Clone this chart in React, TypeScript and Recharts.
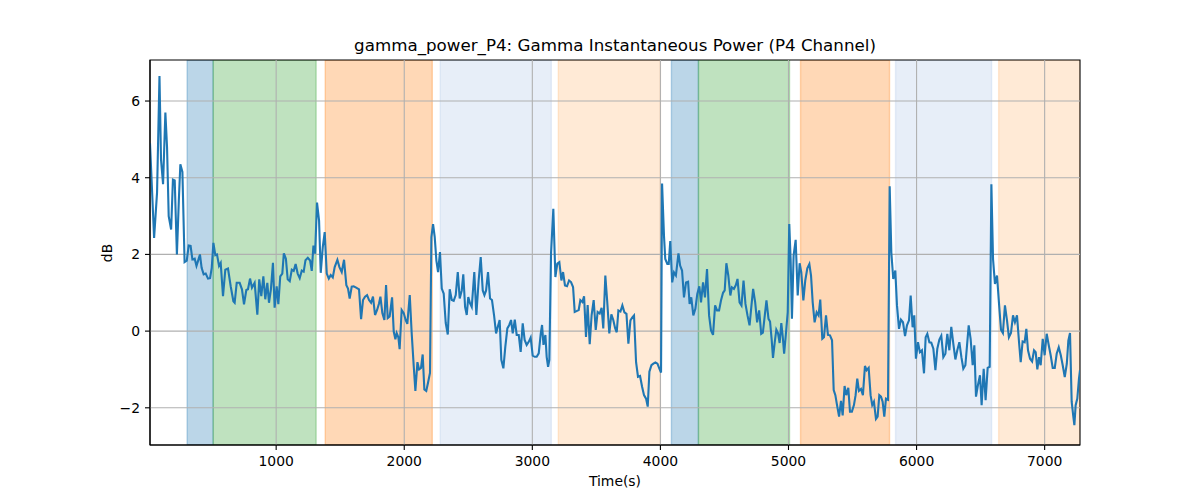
import React from "react";
import {
  LineChart,
  Line,
  XAxis,
  YAxis,
  ReferenceArea,
  ReferenceLine,
} from "recharts";

const timeSec = [
  15, 47, 70, 89, 101, 117, 135, 148, 161, 180, 194, 208, 225, 240, 252, 268, 285, 302, 317, 332,
  346, 364, 378, 392, 405, 418, 434, 450, 468, 484, 497, 510, 525, 538, 554, 567, 585, 603, 624, 645,
  666, 676, 692, 715, 733, 749, 767, 780, 796, 811, 832, 853, 868, 884, 900, 915, 931, 944, 959, 975,
  988, 1004, 1017, 1032, 1048, 1060, 1076, 1090, 1106, 1122, 1137, 1152, 1168, 1184, 1200, 1215, 1229, 1247, 1265, 1278,
  1291, 1304, 1319, 1335, 1348, 1364, 1379, 1395, 1411, 1426, 1442, 1457, 1478, 1494, 1512, 1530, 1548, 1561, 1574, 1590,
  1605, 1621, 1647, 1663, 1678, 1694, 1710, 1725, 1741, 1756, 1772, 1788, 1803, 1814, 1829, 1845, 1858, 1871, 1886, 1905,
  1918, 1931, 1941, 1954, 1964, 1980, 1996, 2011, 2024, 2043, 2058, 2074, 2087, 2103, 2116, 2131, 2144, 2157, 2172, 2186,
  2201, 2212, 2225, 2238, 2251, 2264, 2279, 2293, 2308, 2324, 2340, 2355, 2371, 2386, 2402, 2418, 2433, 2449, 2461, 2475,
  2488, 2500, 2514, 2527, 2547, 2563, 2581, 2597, 2613, 2626, 2639, 2654, 2670, 2685, 2701, 2717, 2730, 2745, 2758, 2774,
  2789, 2805, 2820, 2834, 2847, 2863, 2878, 2894, 2909, 2925, 2940, 2956, 2972, 2987, 3003, 3019, 3034, 3050, 3066, 3076,
  3087, 3102, 3112, 3123, 3133, 3146, 3164, 3180, 3195, 3211, 3227, 3240, 3255, 3271, 3287, 3302, 3318, 3331, 3345, 3362,
  3375, 3391, 3404, 3419, 3432, 3448, 3463, 3479, 3495, 3510, 3526, 3541, 3554, 3570, 3585, 3601, 3617, 3632, 3646, 3659,
  3672, 3688, 3703, 3719, 3735, 3750, 3766, 3781, 3794, 3810, 3825, 3841, 3857, 3872, 3888, 3901, 3914, 3930, 3945, 3961,
  3977, 3992, 4005, 4013, 4028, 4038, 4054, 4065, 4077, 4092, 4106, 4121, 4141, 4154, 4169, 4184, 4200, 4216, 4228, 4241,
  4257, 4273, 4288, 4304, 4317, 4333, 4348, 4364, 4380, 4395, 4411, 4427, 4442, 4458, 4473, 4489, 4502, 4515, 4530, 4546,
  4558, 4574, 4589, 4602, 4618, 4633, 4649, 4664, 4680, 4696, 4711, 4724, 4740, 4755, 4771, 4787, 4800, 4815, 4828, 4844,
  4856, 4869, 4879, 4892, 4905, 4918, 4931, 4944, 4955, 4966, 4978, 4994, 5006, 5017, 5027, 5040, 5056, 5072, 5087, 5100,
  5116, 5131, 5147, 5163, 5176, 5189, 5204, 5220, 5235, 5248, 5264, 5277, 5293, 5308, 5324, 5340, 5353, 5366, 5379, 5395,
  5410, 5423, 5438, 5451, 5467, 5480, 5495, 5511, 5524, 5537, 5550, 5566, 5581, 5597, 5610, 5626, 5641, 5654, 5667, 5683,
  5696, 5709, 5722, 5735, 5748, 5761, 5777, 5790, 5803, 5818, 5834, 5847, 5863, 5878, 5894, 5910, 5925, 5941, 5954, 5969,
  5982, 5995, 6011, 6026, 6042, 6058, 6071, 6084, 6100, 6115, 6131, 6147, 6162, 6178, 6193, 6209, 6225, 6240, 6256, 6271,
  6287, 6303, 6318, 6334, 6350, 6365, 6381, 6394, 6407, 6422, 6438, 6451, 6464, 6479, 6495, 6508, 6524, 6539, 6555, 6571,
  6584, 6597, 6612, 6628, 6643, 6659, 6674, 6690, 6706, 6721, 6737, 6753, 6768, 6784, 6800, 6813, 6828, 6844, 6857, 6870,
  6886, 6902, 6917, 6930, 6943, 6956, 6969, 6985, 7000, 7016, 7032, 7047, 7063, 7079, 7094, 7110, 7126, 7141, 7157, 7173,
  7185, 7198, 7211, 7224, 7232, 7242, 7255, 7268, 7276,
];

const powerDb = [
  4.9, 2.43, 3.61, 6.65, 4.47, 3.83, 5.7, 4.8, 3.0, 2.65, 3.95, 3.93, 2.0, 3.4, 4.35, 4.15, 1.8, 1.84, 2.23, 2.22,
  1.87, 1.89, 1.7, 1.85, 2.0, 1.65, 1.48, 1.5, 1.37, 1.38, 1.65, 2.3, 1.98, 2.0, 1.7, 1.78, 0.91, 1.6, 1.63, 1.17,
  0.78, 0.74, 1.26, 1.26, 1.09, 0.7, 1.07, 1.09, 1.37, 1.13, 1.26, 0.43, 1.35, 0.91, 1.43, 0.83, 1.26, 0.74, 1.09, 1.78,
  0.61, 1.17, 0.7, 1.43, 1.5, 2.03, 1.89, 1.35, 1.3, 1.6, 1.57, 1.75, 1.5, 1.38, 1.58, 1.55, 1.85, 1.91, 1.84, 1.57,
  2.23, 2.02, 3.35, 2.88, 1.52, 2.19, 2.58, 1.5, 1.37, 1.46, 1.4, 1.67, 1.86, 1.67, 1.54, 1.86, 1.2, 1.11, 0.85, 1.16,
  1.17, 1.14, 1.09, 0.31, 0.81, 0.9, 0.94, 0.81, 0.74, 0.9, 0.42, 0.55, 0.72, 0.9, 0.47, 0.29, 1.2, 0.34, 0.38, 0.88,
  -0.01, -0.21, -0.05, -0.16, -0.47, 0.55, 0.47, 0.29, 0.19, 0.94, -0.05, -0.91, -1.56, -0.81, -1.0, -0.96, -0.61, -1.52, -1.56, -1.34,
  -1.09, 2.45, 2.79, 2.45, 1.84, 1.54, 2.06, 1.11, 0.98, 0.21, -0.09, 1.09, 0.81, 0.79, 0.94, 1.54, 0.85, 1.06, 1.48, 0.63,
  0.42, 0.89, 0.72, 0.63, 1.54, 0.42, 1.32, 1.93, 1.06, 0.94, 1.06, 1.54, 0.85, 0.81, 0.42, -0.06, 0.11, 0.29, -0.75, -0.97,
  -0.41, 0.07, 0.16, 0.29, -0.06, 0.3, -0.1, -0.1, -0.54, 0.2, -0.23, -0.36, -0.28, -0.17, -0.64, -0.67, -0.67, -0.58, -0.06, 0.16,
  -0.36, -0.1, -0.67, -0.93, -0.75, 2.02, 3.19, 1.41, 1.76, 1.8, 1.32, 1.54, 1.19, 1.17, 1.32, 1.28, 1.15, 0.5, 0.52, 0.55,
  0.81, 0.76, 0.91, -0.15, 0.68, -0.34, 0.42, 0.81, 0.03, 0.5, 0.46, 0.61, 0.07, 1.45, 0.76, -0.06, 0.44, 0.29, 0.08, -0.03,
  0.54, 0.51, 0.67, 0.49, 0.45, -0.33, 0.28, 0.36, 0.41, -0.81, -1.19, -1.17, -1.45, -1.67, -1.76, -1.97, -1.06, -0.89, -0.85, -0.82,
  -0.85, -0.98, -1.08, 3.85, 2.48, 1.88, 1.75, 1.75, 2.35, 1.27, 1.53, 1.45, 2.03, 1.71, 1.58, 0.88, 1.27, 1.29, 0.71, 0.88,
  0.41, 0.58, 0.97, 1.17, 0.75, 1.27, 0.88, 1.62, 0.41, 0.02, -0.1, 0.67, 0.54, 0.54, 0.8, 1.0, 1.06, 1.77, 1.45, 0.93,
  1.14, 1.1, 1.2, 1.36, 0.75, 0.67, 1.32, 0.71, 0.41, 0.15, 0.67, 1.1, 0.75, 0.23, 0.54, -0.07, -0.04, 0.41, 0.8, 0.32,
  0.25, -0.23, -0.7, -0.31, 0.04, -0.05, -0.31, 0.21, -0.14, -0.59, -0.14, 0.49, 2.79, 1.84, 0.32, 1.97, 2.38, 0.93, 1.77, 1.53,
  0.8, 1.32, 1.64, 1.75, 1.45, 0.75, 0.23, 0.49, 0.41, 0.82, -0.2, -0.16, 0.41, -0.1, -0.11, -0.24, -1.54, -1.67, -1.93, -2.23,
  -1.82, -2.2, -1.43, -1.67, -1.48, -2.1, -2.1, -1.93, -1.67, -1.24, -1.56, -1.51, -1.67, -0.91, -1.02, -0.96, -1.67, -1.93, -1.84, -2.29,
  -2.23, -1.67, -1.71, -1.84, -2.23, -1.76, -1.79, 3.78, 2.05, 1.36, 1.58, 0.67, 0.06, 0.3, 0.23, -0.13, 0.15, 0.28, 0.93, 0.1,
  0.41, -0.72, -0.29, -0.55, -0.5, -1.1, -0.16, -0.07, -0.29, -0.3, -0.46, -1.02, -0.46, -0.22, -0.12, -0.68, -0.59, -0.07, -0.5, 0.11,
  -0.33, -0.74, -0.5, -0.29, -0.68, -0.98, -0.89, -0.37, 0.15, -0.2, -0.89, -0.37, -1.71, -1.41, -1.15, -1.93, -0.98, -1.8, -0.96, -0.93,
  3.83, 1.88, 1.23, 1.45, 0.75, 0.04, -0.05, 0.67, 0.28, -0.16, -0.05, 0.41, 0.23, 0.41, -0.29, -0.81, -0.27, -0.29, 0.06, -0.5,
  -0.72, -0.79, -0.5, -0.55, -1.0, -0.68, -0.89, -0.2, -0.63, -0.07, -0.37, -0.63, -0.96, -0.96, -0.59, -0.42, -0.63, -0.89, -1.2, -0.85,
  -0.25, -0.05, -1.84, -2.23, -2.45, -1.93, -1.76, -1.24, -1.02,
];

const spanStart = [305, 508, 1383, 2281, 3203, 4086, 4297, 5094, 5836, 6641];
const spanEnd = [508, 1312, 2219, 3148, 4000, 4297, 5008, 5789, 6586, 7276];
const spanKind = ["a", "b", "c", "d", "e", "a", "b", "c", "d", "e"];

const xTicks = [1000, 2000, 3000, 4000, 5000, 6000, 7000];
const yTicks = [-2, 0, 2, 4, 6];

const X_DOMAIN: [number, number] = [15, 7276];
const Y_DOMAIN: [number, number] = [-2.97, 7.07];

const kindColor: Record<string, string> = {
  a: "#1f77b4",
  b: "#2ca02c",
  c: "#ff7f0e",
  d: "#aec7e8",
  e: "#ffbb78",
};

const FONT = "'DejaVu Sans', sans-serif";

const data = timeSec.map((t, i) => ({ t, v: powerDb[i] }));

const fmtY = (v: number) => (v < 0 ? "\u2212" + Math.abs(v) : String(v));

export default function App() {
  return (
    <div style={{ position: "absolute", left: 0, top: 0, width: 1200, height: 500, background: "#fff" }}>
      <LineChart
        width={1200}
        height={500}
        data={data}
        margin={{ top: 60, right: 120, bottom: 25, left: 90 }}
        style={{ fontFamily: FONT }}
      >
        <XAxis
          dataKey="t"
          type="number"
          domain={X_DOMAIN}
          allowDataOverflow
          ticks={xTicks}
          height={30}
          tickSize={5}
          tickMargin={6}
          stroke="#000"
          tickLine={{ stroke: "#000", strokeWidth: 1.1 }}
          axisLine={{ stroke: "#000", strokeWidth: 1.1 }}
          tick={{ fill: "#000", fontSize: 13.9, fontFamily: FONT }}
          interval={0}
        />
        <YAxis
          type="number"
          domain={Y_DOMAIN}
          allowDataOverflow
          ticks={yTicks}
          width={60}
          tickSize={5}
          tickMargin={5}
          tickFormatter={fmtY}
          stroke="#000"
          tickLine={{ stroke: "#000", strokeWidth: 1.1 }}
          axisLine={{ stroke: "#000", strokeWidth: 1.1 }}
          tick={{ fill: "#000", fontSize: 13.9, fontFamily: FONT }}
          interval={0}
        />
        {spanStart.map((s, i) => (
          <ReferenceArea
            key={"span" + i}
            x1={s}
            x2={spanEnd[i]}
            y1={Y_DOMAIN[0]}
            y2={Y_DOMAIN[1]}
            fill={kindColor[spanKind[i]]}
            fillOpacity={0.3}
            stroke={kindColor[spanKind[i]]}
            strokeOpacity={0.3}
            strokeWidth={1.4}
            ifOverflow="hidden"
          />
        ))}
        {xTicks.map((x) => (
          <ReferenceLine key={"gx" + x} x={x} stroke="#b0b0b0" strokeWidth={1.1} />
        ))}
        {yTicks.map((y) => (
          <ReferenceLine key={"gy" + y} y={y} stroke="#b0b0b0" strokeWidth={1.1} />
        ))}
        <Line
          type="linear"
          dataKey="v"
          stroke="#1f77b4"
          strokeWidth={2.1}
          dot={false}
          activeDot={false}
          isAnimationActive={false}
        />
        <ReferenceArea
          x1={X_DOMAIN[0]}
          x2={X_DOMAIN[1]}
          y1={Y_DOMAIN[0]}
          y2={Y_DOMAIN[1]}
          fill="none"
          stroke="#000"
          strokeWidth={1.1}
        />
        <text x={615} y={51} textAnchor="middle" fontSize={16.7} fontFamily={FONT} fill="#000">
          gamma_power_P4: Gamma Instantaneous Power (P4 Channel)
        </text>
        <text x={615} y={486} textAnchor="middle" fontSize={13.9} fontFamily={FONT} fill="#000">
          Time(s)
        </text>
        <text
          x={112}
          y={253}
          textAnchor="middle"
          fontSize={13.9}
          fontFamily={FONT}
          fill="#000"
          transform="rotate(-90 112 253)"
        >
          dB
        </text>
      </LineChart>
    </div>
  );
}
